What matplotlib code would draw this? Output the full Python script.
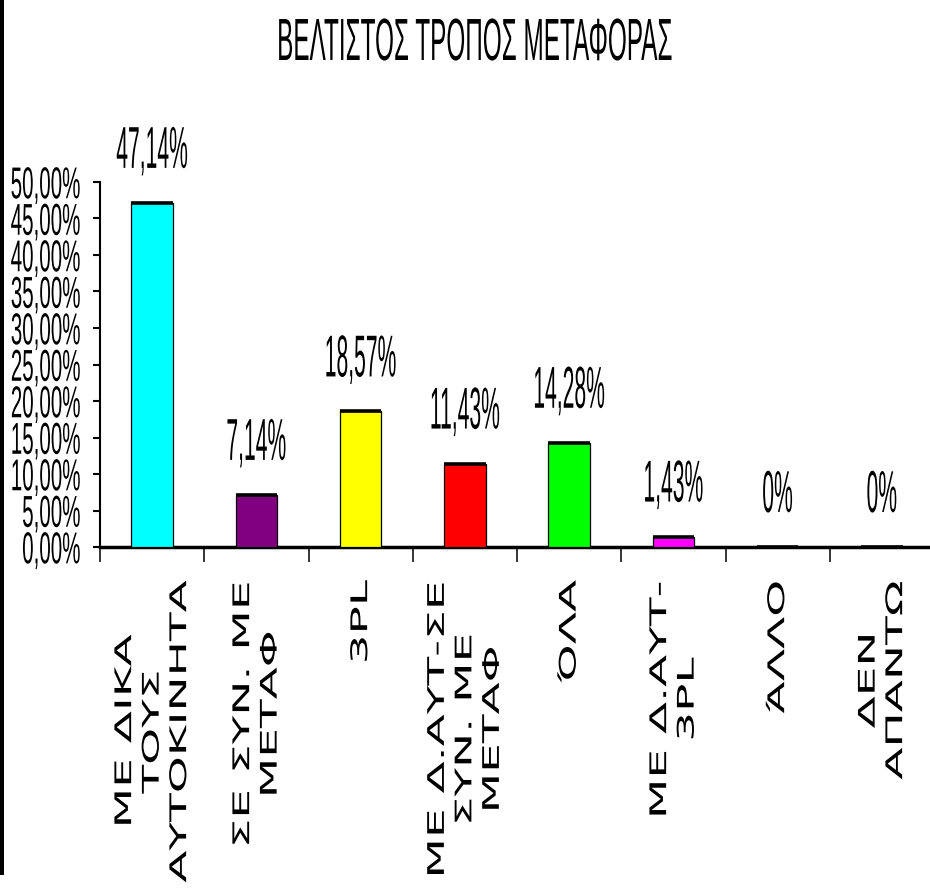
import matplotlib
matplotlib.use("Agg")
import matplotlib.pyplot as plt
from matplotlib.patheffects import AbstractPathEffect
from matplotlib.transforms import Affine2D, ScaledTranslation
from matplotlib.patches import Rectangle
from matplotlib.ticker import FuncFormatter, FixedLocator

# ---------------- data ----------------
categories = [
    "ΜΕ ΔΙΚΑ\nΤΟΥΣ\nΑΥΤΟΚΙΝΗΤΑ",
    "ΣΕ ΣΥΝ. ΜΕ\nΜΕΤΑΦ",
    "3PL",
    "ΜΕ Δ.ΑΥΤ-ΣΕ\nΣΥΝ. ΜΕ\nΜΕΤΑΦ",
    "ΌΛΑ",
    "ΜΕ Δ.ΑΥΤ-\n3PL",
    "ΆΛΛΟ",
    "ΔΕΝ\nΑΠΑΝΤΩ",
]
values = [47.14, 7.14, 18.57, 11.43, 14.28, 1.43, 0.0, 0.0]
value_labels = ["47,14%", "7,14%", "18,57%", "11,43%", "14,28%", "1,43%", "0%", "0%"]
colors = ["#00FFFF", "#800080", "#FFFF00", "#FF0000", "#00FF00", "#FF00FF", "#800000", "#008080"]
title = "ΒΕΛΤΙΣΤΟΣ ΤΡΟΠΟΣ ΜΕΤΑΦΟΡΑΣ"
y_ticks = [0, 5, 10, 15, 20, 25, 30, 35, 40, 45, 50]


class Stretch(AbstractPathEffect):
    """Scale rendered glyphs around the text anchor (text stays real text)."""

    def __init__(self, text, sx=1.0, sy=1.0):
        super().__init__()
        self.text = text
        self.sx = sx
        self.sy = sy

    def draw_path(self, renderer, gc, tpath, affine, rgbFace=None):
        t = self.text
        axp, ayp = t.get_transform().transform(t.get_unitless_position())
        tr = affine + Affine2D().translate(-axp, -ayp).scale(self.sx, self.sy).translate(axp, ayp)
        renderer.draw_path(gc, tpath, tr, rgbFace)


def stretch(text, sx=1.0, sy=1.0):
    text.set_path_effects([Stretch(text, sx, sy)])


W, H = 930, 888
fig = plt.figure(figsize=(W / 100, H / 100), dpi=100)
fig.patch.set_facecolor("white")

ax = fig.add_axes([100 / W, 1 - 547 / H, 834 / W, (547 - 182) / H])
ax.set_facecolor("white")

x = list(range(len(values)))
bw = 0.4
ax.bar(x, values, width=bw, color=colors, edgecolor="black", linewidth=0.9, zorder=3)
# dark top rim of each bar
ax.hlines(values, [xi - bw / 2 for xi in x], [xi + bw / 2 for xi in x],
          colors="black", linewidth=2.6, zorder=4, capstyle="butt")

ax.set_xlim(-0.5, len(values) - 0.5)
ax.set_ylim(0, 50)

for s in ["top", "right"]:
    ax.spines[s].set_visible(False)
ax.spines["left"].set_linewidth(1.5)
ax.spines["bottom"].set_linewidth(2.5)

# y axis
ax.yaxis.set_major_locator(FixedLocator(y_ticks))
ax.yaxis.set_major_formatter(FuncFormatter(lambda v, p: f"{v:.2f}".replace(".", ",") + "%"))
ax.tick_params(axis="y", which="major", direction="out", length=5, width=1.5, pad=9,
               labelsize=14.8)
for lab in ax.get_yticklabels():
    lab.set_fontfamily("Liberation Sans")
    stretch(lab, sy=2.17)

# x axis: ticks at category boundaries, labels at centres
ax.set_xticks([i - 0.5 for i in range(len(values) + 1)])
ax.set_xticklabels([])
ax.tick_params(axis="x", which="major", direction="out", length=11, width=1.1)
ax.set_xticks(x, categories, minor=True)
ax.tick_params(axis="x", which="minor", length=0, pad=24)
for lab in ax.get_xticklabels(minor=True):
    lab.set_rotation(90)
    lab.set_fontfamily("DejaVu Sans")
    lab.set_fontsize(16.5)
    lab.set_ha("center")
    lab.set_va("top")
    lab.set_multialignment("center")
    lab.set_linespacing(1.25)
    stretch(lab, sy=2.05)

# value labels
off = ScaledTranslation(0, 35 / 100, fig.dpi_scale_trans)
for xi, v, s in zip(x, values, value_labels):
    t = ax.text(xi, v, s, transform=ax.transData + off, ha="center", va="baseline",
                fontsize=15.2, family="Liberation Sans", color="black", zorder=5)
    stretch(t, sy=2.8)

# title
tt = fig.text(474 / W, 1 - 60 / H, title, ha="center", va="baseline",
              fontsize=17.5, family="Liberation Sans", color="black")
stretch(tt, sy=2.45)

# left black border
fig.patches.append(Rectangle((0, 13 / H), 3.5 / W, 1 - 13 / H, transform=fig.transFigure,
                             facecolor="black", edgecolor="none", zorder=10))

fig.savefig("out.png", dpi=100, facecolor="white")
